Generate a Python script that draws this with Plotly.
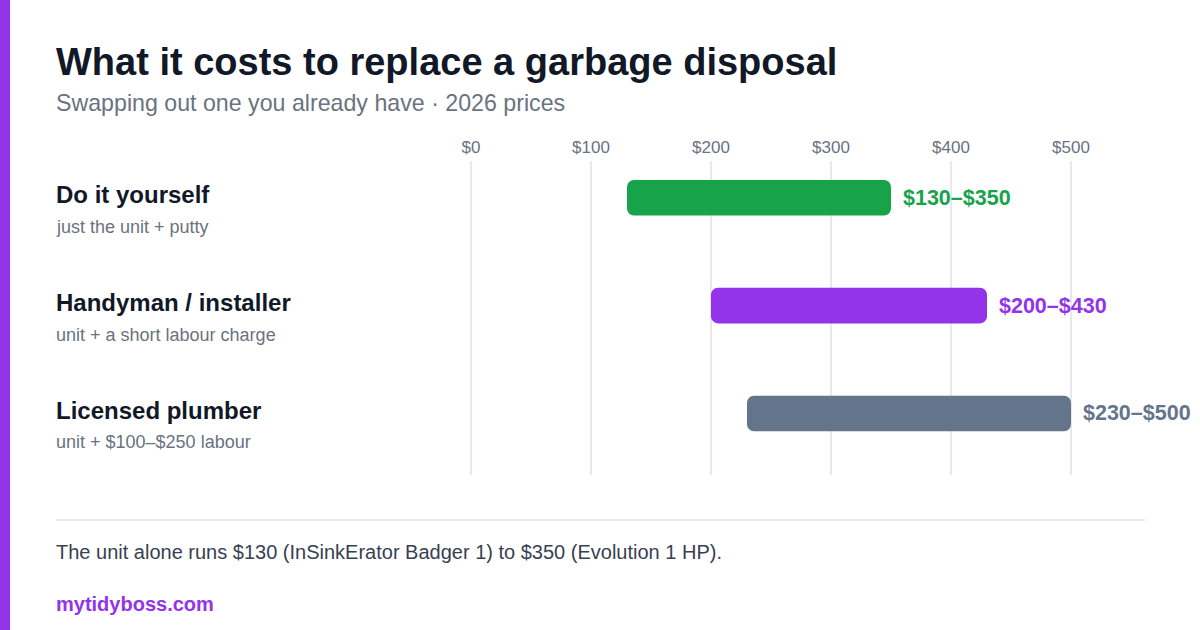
import plotly.graph_objects as go

# Price ranges (USD) for replacing a garbage disposal
categories = ["Do it yourself", "Handyman / installer", "Licensed plumber"]
descriptions = ["just the unit + putty", "unit + a short labour charge", "unit + $100–$250 labour"]
low_prices = [130, 200, 230]
high_prices = [350, 430, 500]
bar_colors = ["#16a34a", "#9333ea", "#64748b"]
tick_values = [0, 100, 200, 300, 400, 500]
tick_labels = ["$0", "$100", "$200", "$300", "$400", "$500"]

W, H = 1200, 630
FONT = "Liberation Sans, Arial, sans-serif"
LEFT = 54  # anchor for the left-hand text column


def px_x(p):
    """Pixel -> paper x."""
    return p / W


def px_y(p):
    """Pixel -> paper y (from top)."""
    return 1 - p / H


positions = list(range(len(categories)))

fig = go.Figure()
fig.add_trace(go.Bar(
    y=positions,
    x=[h - l for l, h in zip(low_prices, high_prices)],
    base=low_prices,
    orientation="h",
    width=0.33,
    marker=dict(color=bar_colors, cornerradius=7, line=dict(width=0)),
    hoverinfo="skip",
))

annotations = []
for i, (cat, desc, lo, hi, col) in enumerate(zip(categories, descriptions, low_prices, high_prices, bar_colors)):
    # value label at the bar end
    annotations.append(dict(
        x=hi, y=i, xref="x", yref="y", xanchor="left", yanchor="middle",
        xshift=10, text=f"<b>${lo}–${hi}</b>", showarrow=False,
        font=dict(family=FONT, size=21.5, color=col),
    ))
    # category name + description on the left
    annotations.append(dict(
        x=px_x(LEFT), y=i, xref="paper", yref="y", xanchor="left", yanchor="middle",
        yshift=3, text=f"<b>{cat}</b>", showarrow=False,
        font=dict(family=FONT, size=24, color="#111827"),
    ))
    annotations.append(dict(
        x=px_x(LEFT), y=i, xref="paper", yref="y", xanchor="left", yanchor="middle",
        yshift=-29, text=desc, showarrow=False,
        font=dict(family=FONT, size=18, color="#6b7280"),
    ))

annotations += [
    dict(x=px_x(LEFT), y=px_y(62), xref="paper", yref="paper", xanchor="left", yanchor="middle",
         text="<b>What it costs to replace a garbage disposal</b>", showarrow=False,
         font=dict(family=FONT, size=38, color="#111827")),
    dict(x=px_x(LEFT), y=px_y(103), xref="paper", yref="paper", xanchor="left", yanchor="middle",
         text="Swapping out one you already have · 2026 prices", showarrow=False,
         font=dict(family=FONT, size=23.2, color="#6b7280")),
    dict(x=px_x(LEFT), y=px_y(552), xref="paper", yref="paper", xanchor="left", yanchor="middle",
         text="The unit alone runs $130 (InSinkErator Badger 1) to $350 (Evolution 1 HP).", showarrow=False,
         font=dict(family=FONT, size=20, color="#374151")),
    dict(x=px_x(LEFT), y=px_y(604), xref="paper", yref="paper", xanchor="left", yanchor="middle",
         text="<b>mytidyboss.com</b>", showarrow=False,
         font=dict(family=FONT, size=20, color="#9333ea")),
]

shapes = [
    # purple accent stripe on the left edge
    dict(type="rect", xref="paper", yref="paper", x0=0, x1=px_x(10), y0=0, y1=1,
         fillcolor="#9333ea", line=dict(width=0), layer="below"),
    # footer divider
    dict(type="line", xref="paper", yref="paper", x0=px_x(56), x1=px_x(1145),
         y0=px_y(520), y1=px_y(520), line=dict(color="#cbd5e1", width=1)),
]

fig.update_layout(
    width=W, height=H,
    margin=dict(l=0, r=0, t=0, b=0, autoexpand=False),
    paper_bgcolor="white", plot_bgcolor="white",
    showlegend=False,
    annotations=annotations,
    shapes=shapes,
    xaxis=dict(
        # 1.2 px per dollar, $0 at x=471
        domain=[px_x(465), px_x(1077)],
        range=[-5, 505],
        side="top",
        automargin=False,
        tickvals=tick_values, ticktext=tick_labels,
        tickfont=dict(family=FONT, size=17, color="#6b7280"),
        ticklabelstandoff=4,
        showgrid=True, gridcolor="#e6e9ef", gridwidth=2,
        zeroline=False, showline=False, ticks="",
        fixedrange=True,
    ),
    yaxis=dict(
        domain=[1 - 475 / H, 1 - 161 / H],
        range=[2.57, -0.34],
        automargin=False,
        showticklabels=False, showgrid=False, zeroline=False,
        fixedrange=True,
    ),
)

fig.write_html(
    "out.html",
    config={"displayModeBar": False},
    post_script="document.body.style.margin='0';document.body.style.overflow='hidden';",
)
